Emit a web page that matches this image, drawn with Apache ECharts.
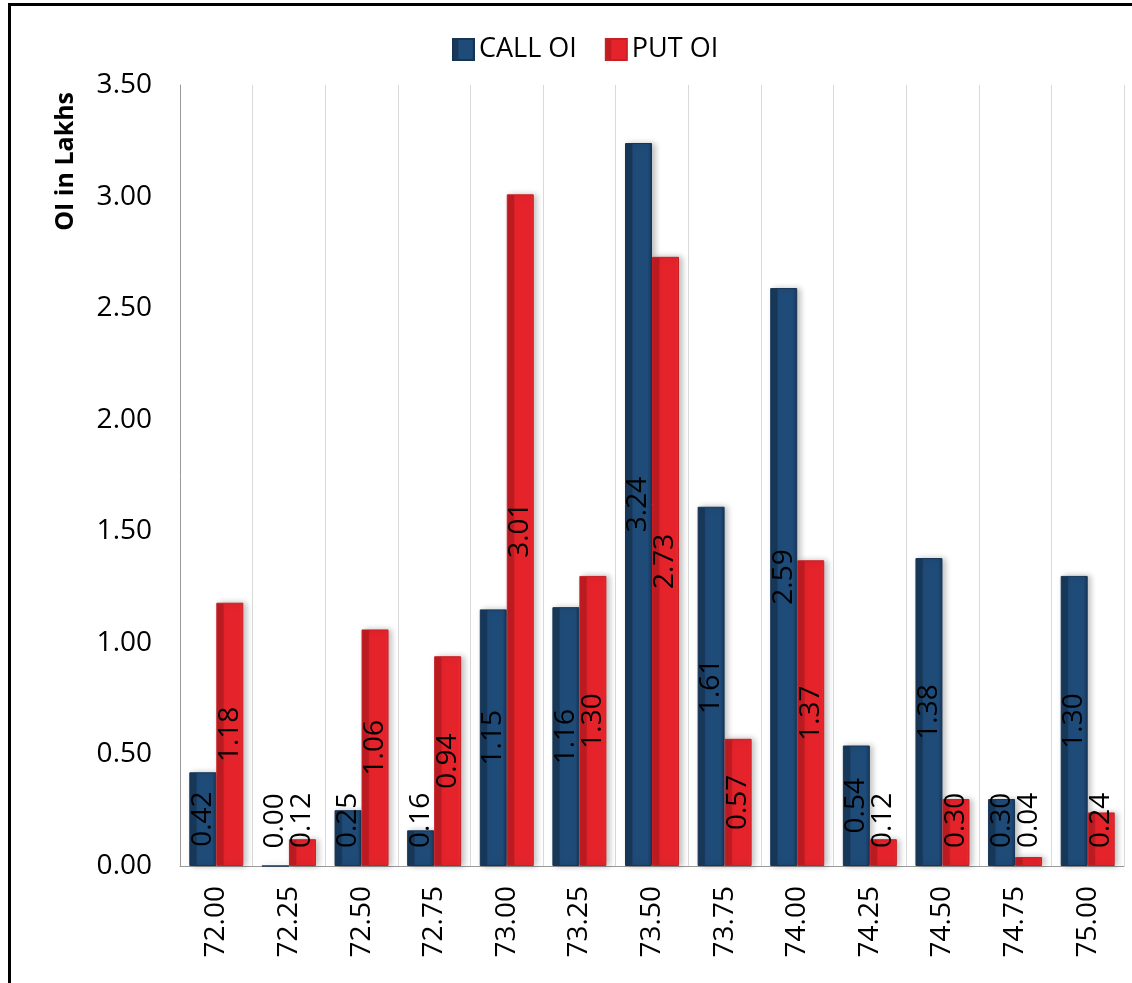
<!DOCTYPE html>
<html>
<head>
<meta charset="utf-8">
<script src="https://cdn.jsdelivr.net/npm/echarts@6/dist/echarts.min.js"></script>
<style>
  html, body { margin: 0; padding: 0; background: #fff; overflow: hidden; }
  #chart { width: 1132px; height: 983px; }
  .frame {
    position: absolute; left: 8px; top: 3px; width: 1400px; height: 1400px;
    border: 3px solid #000; pointer-events: none;
  }
</style>
</head>
<body>
<div id="chart"></div>
<div class="frame"></div>
<script>
// strike prices
const strikes = ['72.00', '72.25', '72.50', '72.75', '73.00', '73.25', '73.50', '73.75', '74.00', '74.25', '74.50', '74.75', '75.00']
// open interest, in lakhs
const callOI = [0.42, 0.00, 0.25, 0.16, 1.15, 1.16, 3.24, 1.61, 2.59, 0.54, 1.38, 0.30, 1.30]
const putOI = [1.18, 0.12, 1.06, 0.94, 3.01, 1.30, 2.73, 0.57, 1.37, 0.12, 0.30, 0.04, 0.24]

const FONT = '"Open Sans", sans-serif'

// short bars: label sits a bit above the axis instead of centred
function barData(values) {
  return values.map(v => {
    if (v >= 0.41) return v
    return {
      value: v,
      label: {position: 'insideBottom', distance: 18, align: 'left', verticalAlign: 'middle'}
    }
  })
}

function grad(c1, c2, c3) {
  return new echarts.graphic.LinearGradient(0, 0, 1, 0, [
    {offset: 0, color: c1},
    {offset: 0.25, color: c1},
    {offset: 0.3, color: c2},
    {offset: 0.85, color: c2},
    {offset: 1, color: c3}
  ])
}

const chart = echarts.init(document.getElementById('chart'))

const labelStyle = {
  show: true,
  position: 'inside',
  rotate: 90,
  color: '#000',
  fontFamily: FONT,
  fontSize: 28,
  formatter: p => Number(p.value).toFixed(2)
}

const option = {
  animation: false,
  textStyle: {fontFamily: FONT},
  legend: {
    left: 447,
    top: 31,
    itemWidth: 21,
    itemHeight: 21,
    itemGap: 28,
    textStyle: {fontSize: 27, color: '#000', fontFamily: FONT},
    data: [
      {name: 'CALL OI', icon: 'rect'},
      {name: 'PUT OI', icon: 'rect'}
    ]
  },
  graphic: [{
    type: 'text',
    left: 53,
    top: 92,
    rotation: Math.PI / 2,
    style: {
      text: 'OI in Lakhs',
      font: 'bold 25px "Open Sans", sans-serif',
      fill: '#000'
    }
  }],
  grid: {left: 180, right: 8, top: 85, bottom: 117},
  xAxis: {
    type: 'category',
    data: strikes,
    axisTick: {show: false},
    axisLine: {lineStyle: {color: '#999', width: 1}},
    axisLabel: {rotate: 90, margin: 20, color: '#000', fontSize: 28, fontFamily: FONT},
    splitLine: {show: true, lineStyle: {color: '#d9d9d9', width: 1}}
  },
  yAxis: {
    type: 'value',
    min: 0,
    max: 3.5,
    interval: 0.5,
    axisLine: {show: true, lineStyle: {color: '#999', width: 1}},
    axisTick: {show: false},
    splitLine: {show: false},
    axisLabel: {
      margin: 28,
      color: '#000',
      fontSize: 28,
      fontFamily: FONT,
      formatter: v => v.toFixed(2)
    }
  },
  series: [
    {
      name: 'CALL OI',
      type: 'bar',
      barWidth: 27,
      barGap: '0%',
      data: barData(callOI),
      label: labelStyle,
      itemStyle: {
        color: grad('#18395c', '#1f4b78', '#17375a'),
        borderColor: '#163555',
        borderWidth: 1,
        shadowColor: 'rgba(0,0,0,0.25)',
        shadowBlur: 6,
        shadowOffsetX: 3
      }
    },
    {
      name: 'PUT OI',
      type: 'bar',
      barWidth: 27,
      data: barData(putOI),
      label: labelStyle,
      itemStyle: {
        color: grad('#c01c22', '#e5232b', '#f22a32'),
        borderColor: '#c81e24',
        borderWidth: 1,
        shadowColor: 'rgba(0,0,0,0.25)',
        shadowBlur: 6,
        shadowOffsetX: 3
      }
    }
  ]
}

chart.setOption(option, true)
</script>
</body>
</html>
